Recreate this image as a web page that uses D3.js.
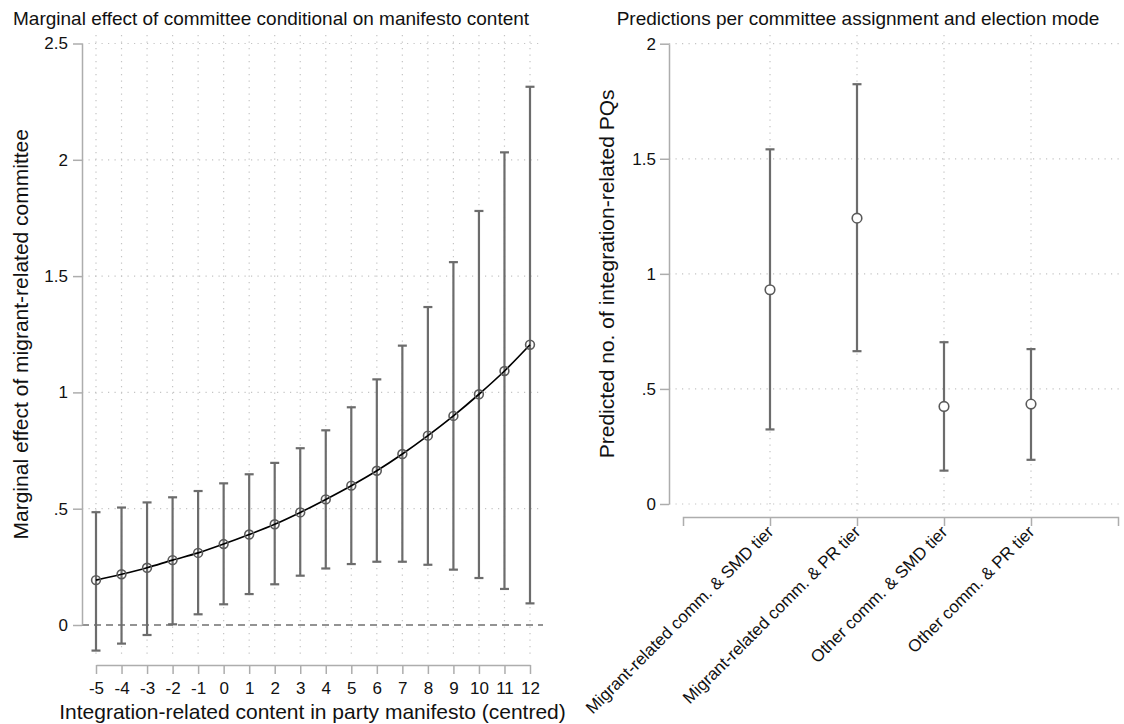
<!DOCTYPE html>
<html>
<head>
<meta charset="utf-8">
<script src="https://cdn.jsdelivr.net/npm/d3@7"></script>
<style>
  html, body { margin: 0; padding: 0; background: #fff; }
  svg { display: block; font-family: "Liberation Sans", Arial, sans-serif; }
</style>
</head>
<body>
<svg id="chart" width="1124" height="724"></svg>
<script>
// Panel A: marginal effect by manifesto content
const manifesto = [-5, -4, -3, -2, -1, 0, 1, 2, 3, 4, 5, 6, 7, 8, 9, 10, 11, 12];
const effect = [0.193, 0.218, 0.246, 0.279, 0.31, 0.348, 0.389, 0.433, 0.484, 0.54,
                0.599, 0.663, 0.735, 0.814, 0.899, 0.992, 1.092, 1.205];
const effectLow = [-0.11, -0.08, -0.043, 0.003, 0.046, 0.089, 0.133, 0.175, 0.212, 0.243,
                   0.262, 0.272, 0.272, 0.259, 0.238, 0.202, 0.155, 0.093];
const effectHigh = [0.485, 0.505, 0.527, 0.549, 0.576, 0.609, 0.648, 0.697, 0.76, 0.837,
                    0.936, 1.056, 1.201, 1.367, 1.56, 1.78, 2.032, 2.314];
const effectTicks = [0, 0.5, 1, 1.5, 2, 2.5];

// Panel B: predictions per committee assignment and election mode
const groups = ["Migrant-related comm. & SMD tier", "Migrant-related comm. & PR tier",
                "Other comm. & SMD tier", "Other comm. & PR tier"];
const predicted = [0.931, 1.242, 0.424, 0.434];
const predLow = [0.324, 0.664, 0.145, 0.192];
const predHigh = [1.541, 1.824, 0.703, 0.673];
const predTicks = [0, 0.5, 1, 1.5, 2];

const svg = d3.select("#chart");
const fmt = d => (d > 0 && d < 1) ? String(d).replace(/^0/, "") : String(d);

const AXIS = "#adadad", GRID = "#c4c4c4", BAR = "#6c6c6c", MARK = "#5a5a5a";
const TICK_FONT = 17, TITLE_FONT = 19, AXIS_TITLE_FONT = 21;

function styleAxis(g) {
  g.selectAll("path.domain").attr("stroke", AXIS).attr("stroke-width", 1.5);
  g.selectAll(".tick line").attr("stroke", AXIS).attr("stroke-width", 1.5);
  g.selectAll(".tick text").attr("fill", "#111").attr("font-size", TICK_FONT);
}

// ---------- Panel A ----------
const xA = d3.scaleLinear().domain([-5, 12]).range([96, 530]);
const yA = d3.scaleLinear().domain([0, 2.5]).range([625, 43.5]);
const A = { left: 82, right: 543, top: 35, bottom: 659 };

const gA = svg.append("g");
// dotted grid
gA.append("g").selectAll("line").data(effectTicks.filter(d => d > 0)).join("line")
  .attr("x1", A.left).attr("x2", A.right)
  .attr("y1", d => yA(d)).attr("y2", d => yA(d))
  .attr("stroke", GRID).attr("stroke-width", 1.2).attr("stroke-dasharray", "1.2,5.3");
gA.append("g").selectAll("line").data(manifesto).join("line")
  .attr("x1", d => xA(d)).attr("x2", d => xA(d))
  .attr("y1", A.top).attr("y2", A.bottom)
  .attr("stroke", GRID).attr("stroke-width", 1.2).attr("stroke-dasharray", "1.2,5.3");
// zero reference
gA.append("line")
  .attr("x1", A.left).attr("x2", A.right).attr("y1", yA(0)).attr("y2", yA(0))
  .attr("stroke", "#707070").attr("stroke-width", 1.3).attr("stroke-dasharray", "7,5");

// axes
const axAy = gA.append("g").attr("transform", `translate(${A.left},0)`)
  .call(d3.axisLeft(yA).tickValues(effectTicks).tickFormat(fmt).tickSize(9).tickPadding(5).tickSizeOuter(0));
styleAxis(axAy);
const axAx = gA.append("g").attr("transform", "translate(0,665)")
  .call(d3.axisBottom(xA).tickValues(manifesto).tickFormat(d => String(d)).tickSize(9).tickPadding(8).tickSizeOuter(0));
styleAxis(axAx);

// confidence intervals
const ciA = gA.append("g").attr("stroke", BAR).attr("stroke-width", 2.2).attr("fill", "none");
manifesto.forEach((m, i) => {
  const x = xA(m);
  ciA.append("line").attr("x1", x).attr("x2", x).attr("y1", yA(effectLow[i])).attr("y2", yA(effectHigh[i]));
  ciA.append("line").attr("x1", x - 4.5).attr("x2", x + 4.5).attr("y1", yA(effectLow[i])).attr("y2", yA(effectLow[i]));
  ciA.append("line").attr("x1", x - 4.5).attr("x2", x + 4.5).attr("y1", yA(effectHigh[i])).attr("y2", yA(effectHigh[i]));
});
// effect curve
gA.append("path")
  .datum(manifesto.map((m, i) => [m, effect[i]]))
  .attr("fill", "none").attr("stroke", "#000").attr("stroke-width", 1.7)
  .attr("d", d3.line().x(d => xA(d[0])).y(d => yA(d[1])).curve(d3.curveMonotoneX));
gA.append("g").selectAll("circle").data(manifesto).join("circle")
  .attr("cx", d => xA(d)).attr("cy", (d, i) => yA(effect[i])).attr("r", 4.4)
  .attr("fill", "none").attr("stroke", MARK).attr("stroke-width", 1.6);

// titles
svg.append("text").attr("x", 13).attr("y", 25).attr("font-size", TITLE_FONT).attr("fill", "#111")
  .text("Marginal effect of committee conditional on manifesto content");
svg.append("text").attr("transform", `translate(28,${(yA(0) + yA(2.5)) / 2}) rotate(-90)`)
  .attr("text-anchor", "middle").attr("font-size", AXIS_TITLE_FONT).attr("fill", "#111")
  .text("Marginal effect of migrant-related committee");
svg.append("text").attr("x", (A.left + A.right) / 2).attr("y", 719)
  .attr("text-anchor", "middle").attr("font-size", AXIS_TITLE_FONT).attr("fill", "#111")
  .text("Integration-related content in party manifesto (centred)");

// ---------- Panel B ----------
const xB = d3.scalePoint().domain(groups).range([683, 1118]).padding(1);
const yB = d3.scaleLinear().domain([0, 2]).range([504, 43.7]);
const B = { left: 669, right: 1122, top: 35, bottom: 512 };

const gB = svg.append("g");
gB.append("g").selectAll("line").data(predTicks).join("line")
  .attr("x1", B.left).attr("x2", B.right)
  .attr("y1", d => yB(d)).attr("y2", d => yB(d))
  .attr("stroke", GRID).attr("stroke-width", 1.2).attr("stroke-dasharray", "1.2,5.3");
gB.append("g").selectAll("line").data(groups).join("line")
  .attr("x1", d => xB(d)).attr("x2", d => xB(d))
  .attr("y1", B.top).attr("y2", B.bottom)
  .attr("stroke", GRID).attr("stroke-width", 1.2).attr("stroke-dasharray", "1.2,5.3");

const axBy = gB.append("g").attr("transform", `translate(${B.left},0)`)
  .call(d3.axisLeft(yB).tickValues(predTicks).tickFormat(fmt).tickSize(9).tickPadding(4).tickSizeOuter(0));
styleAxis(axBy);
const axBx = gB.append("g").attr("transform", "translate(0,517)")
  .call(d3.axisBottom(xB).tickSize(9).tickSizeOuter(9));
styleAxis(axBx);
axBx.selectAll(".tick text")
  .attr("x", 0).attr("y", 0).attr("dy", 0)
  .attr("text-anchor", "end")
  .attr("transform", "translate(4,16) rotate(-45)");

const ciB = gB.append("g").attr("stroke", BAR).attr("stroke-width", 2.2).attr("fill", "none");
groups.forEach((gname, i) => {
  const x = xB(gname);
  ciB.append("line").attr("x1", x).attr("x2", x).attr("y1", yB(predLow[i])).attr("y2", yB(predHigh[i]));
  ciB.append("line").attr("x1", x - 4.5).attr("x2", x + 4.5).attr("y1", yB(predLow[i])).attr("y2", yB(predLow[i]));
  ciB.append("line").attr("x1", x - 4.5).attr("x2", x + 4.5).attr("y1", yB(predHigh[i])).attr("y2", yB(predHigh[i]));
});
gB.append("g").selectAll("circle").data(groups).join("circle")
  .attr("cx", d => xB(d)).attr("cy", (d, i) => yB(predicted[i])).attr("r", 4.8)
  .attr("fill", "#fff").attr("stroke", MARK).attr("stroke-width", 1.6);

svg.append("text").attr("x", 858).attr("y", 25).attr("text-anchor", "middle")
  .attr("font-size", TITLE_FONT).attr("fill", "#111")
  .text("Predictions per committee assignment and election mode");
svg.append("text").attr("transform", `translate(614,${(yB(0) + yB(2)) / 2}) rotate(-90)`)
  .attr("text-anchor", "middle").attr("font-size", AXIS_TITLE_FONT).attr("fill", "#111")
  .text("Predicted no. of integration-related PQs");
</script>
</body>
</html>
